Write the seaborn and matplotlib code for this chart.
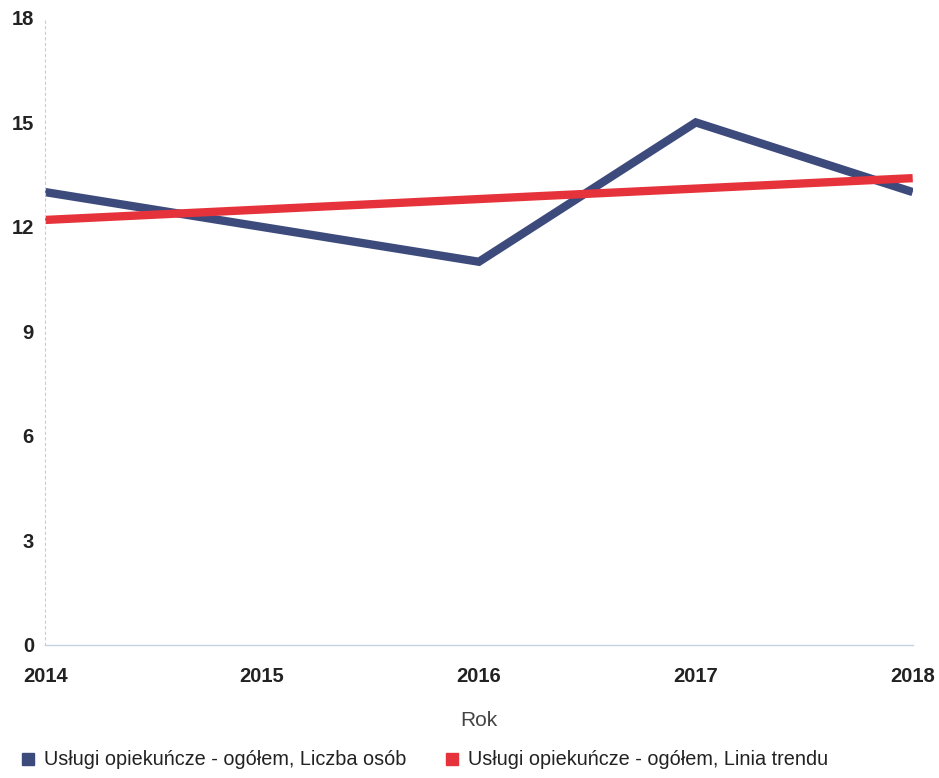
import pandas as pd
import matplotlib
matplotlib.use("Agg")
import matplotlib.pyplot as plt
import seaborn as sns
from matplotlib.lines import Line2D

lata = [2014, 2015, 2016, 2017, 2018]
liczba_osob = [13, 12, 11, 15, 13]
linia_trendu = [12.2, 12.5, 12.8, 13.1, 13.4]
y_ticks = [0, 3, 6, 9, 12, 15, 18]

nazwa_1 = "Usługi opiekuńcze - ogółem, Liczba osób"
nazwa_2 = "Usługi opiekuńcze - ogółem, Linia trendu"

df = pd.DataFrame({"Rok": lata, "Liczba": liczba_osob, "Trend": linia_trendu})

sns.set_style("white")
plt.rcParams['font.family'] = ['Liberation Sans', 'DejaVu Sans']

niebieski = "#3d4b7c"
czerwony = "#e6333b"

fig = plt.figure(figsize=(9.39, 7.78), dpi=100)
ax = fig.add_axes([0.048, 0.171, 0.924, 0.806])

sns.lineplot(data=df, x="Rok", y="Liczba", color=niebieski, linewidth=6, ax=ax,
             solid_joinstyle="miter", solid_capstyle="butt")
sns.lineplot(data=df, x="Rok", y="Trend", color=czerwony, linewidth=6, ax=ax,
             solid_capstyle="butt")

ax.set_xlim(2014, 2018)
ax.set_ylim(0, 18)
ax.set_xticks(lata)
ax.set_yticks(y_ticks)
ax.set_xticklabels([str(r) for r in lata], fontsize=14.5, fontweight="bold", color="#222222")
ax.set_yticklabels([str(v) for v in y_ticks], fontsize=14.5, fontweight="bold", color="#222222")
ax.tick_params(axis="both", length=0)
ax.tick_params(axis="x", pad=16)
ax.tick_params(axis="y", pad=8)
ax.get_xticklabels()[0].set_x(2013.95)

ax.set_xlabel("Rok", fontsize=15, color="#444444", labelpad=18)
ax.set_ylabel("")

for s in ["top", "right"]:
    ax.spines[s].set_visible(False)
ax.spines["left"].set_color("#cccccc")
ax.spines["left"].set_linestyle((0, (2, 3)))
ax.spines["left"].set_linewidth(0.8)
ax.spines["bottom"].set_color("#c5d3e0")
ax.spines["bottom"].set_linewidth(1.0)

uchwyty = [
    Line2D([0], [0], marker="s", linestyle="", markersize=9, markerfacecolor=niebieski,
           markeredgecolor=niebieski, label=nazwa_1),
    Line2D([0], [0], marker="s", linestyle="", markersize=9, markerfacecolor=czerwony,
           markeredgecolor=czerwony, label=nazwa_2),
]
fig.legend(handles=uchwyty, loc="lower left", bbox_to_anchor=(0.0, -0.012), ncol=2,
           frameon=False, fontsize=14.3, handletextpad=0.3, columnspacing=1.8,
           handlelength=1.0, labelcolor="#222222")

fig.savefig("out.png", dpi=100)
